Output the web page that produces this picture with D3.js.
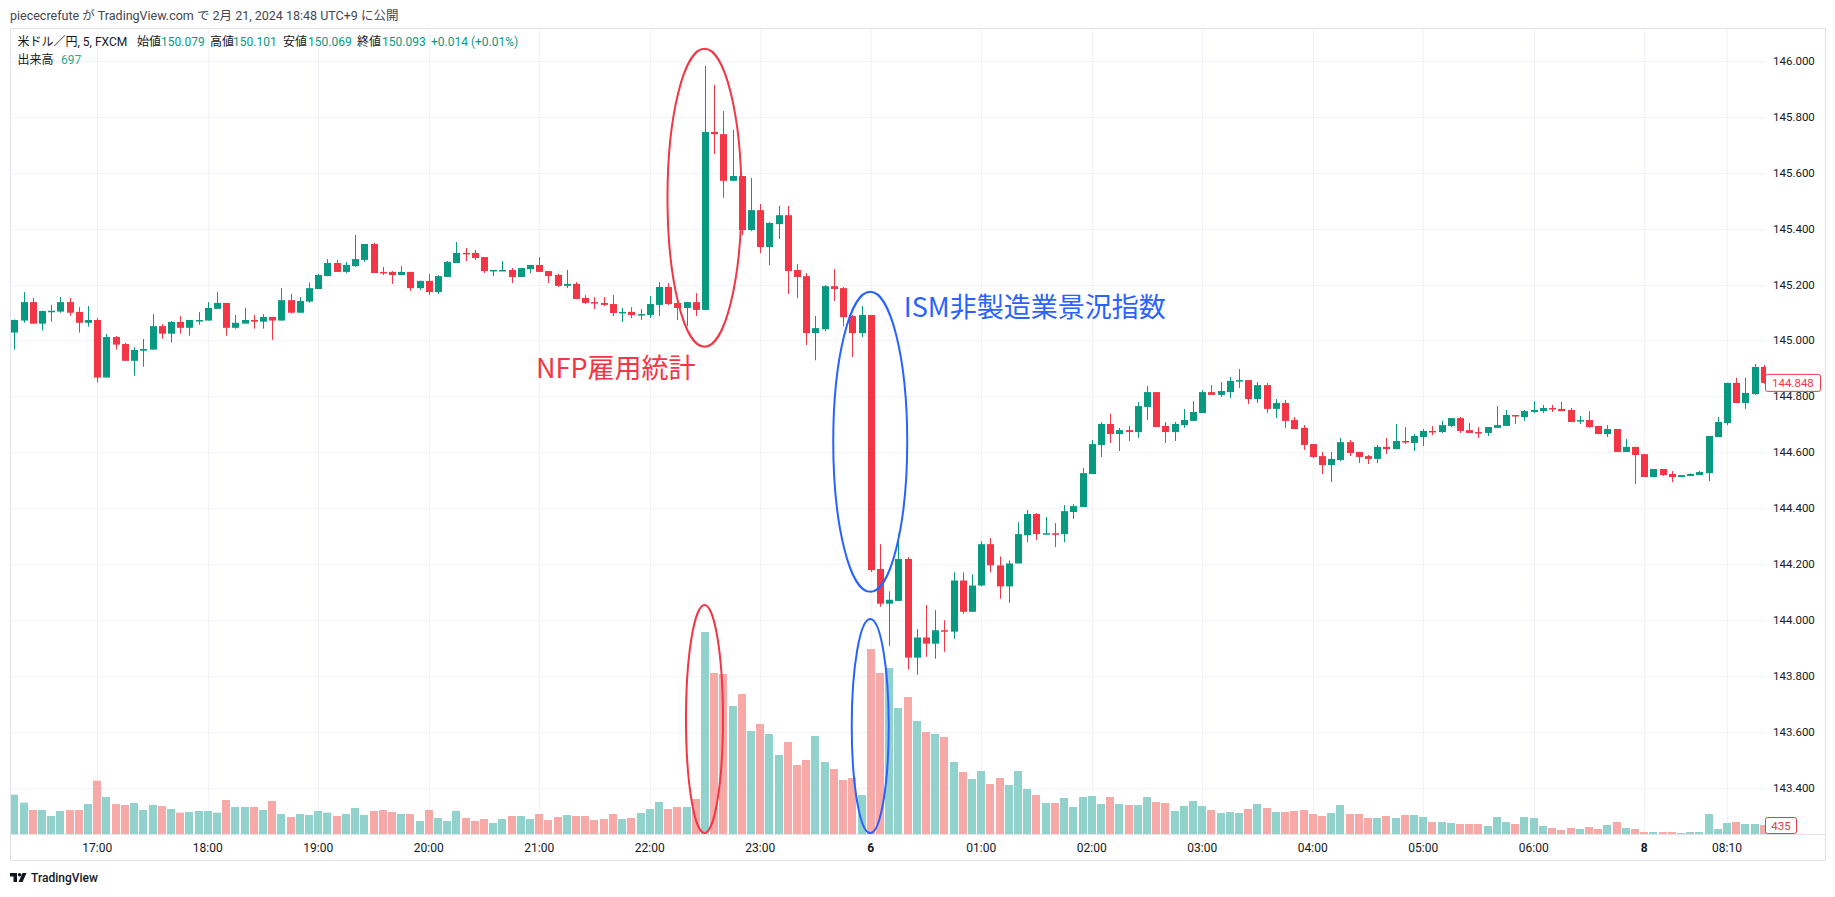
<!DOCTYPE html>
<html><head><meta charset="utf-8">
<script src="https://cdn.jsdelivr.net/npm/d3@7"></script>
<style>
html,body{margin:0;padding:0;background:#fff;}
svg{display:block;}
</style>
</head><body>
<svg id="chart" width="1835" height="897"></svg>
<script>
// ---- data (USD/JPY 5-min, FXCM) ----
const opens = [145.028,145.071,145.137,145.060,145.103,145.103,145.137,145.102,145.063,145.073,
144.867,145.012,144.987,144.927,144.963,144.967,145.051,145.024,145.066,145.045,
145.071,145.071,145.113,145.134,145.045,145.060,145.073,145.067,145.084,145.071,
145.144,145.099,145.139,145.184,145.230,145.277,145.245,145.266,145.288,145.345,
145.245,145.245,145.234,145.245,145.187,145.213,145.173,145.227,145.277,145.313,
145.313,145.298,145.248,145.248,145.252,145.227,145.255,145.270,145.248,145.234,
145.195,145.202,145.152,145.137,145.134,145.130,145.098,145.102,145.091,145.091,
145.127,145.191,145.134,145.116,145.137,145.109,145.746,145.738,145.571,145.588,
145.395,145.466,145.334,145.416,145.448,145.252,145.230,145.026,145.040,145.194,
145.187,145.087,145.026,145.091,144.182,144.058,144.068,144.218,143.865,143.937,
143.915,143.963,143.958,144.141,144.029,144.123,144.271,144.195,144.120,144.202,
144.303,144.379,144.307,144.310,144.307,144.386,144.404,144.522,144.626,144.701,
144.665,144.679,144.672,144.762,144.815,144.694,144.672,144.697,144.712,144.740,
144.815,144.805,144.815,144.855,144.858,144.790,144.840,144.755,144.776,144.715,
144.687,144.629,144.586,144.554,144.572,144.636,144.601,144.586,144.576,144.619,
144.611,144.640,144.633,144.654,144.676,144.672,144.694,144.722,144.679,144.672,
144.669,144.687,144.694,144.733,144.726,144.744,144.747,144.758,144.755,144.751,
144.712,144.715,144.694,144.665,144.683,144.601,144.619,144.593,144.511,144.540,
144.522,144.511,144.515,144.518,144.525,144.654,144.704,144.848,144.776,144.808,
144.905];
const highs = [145.075,145.173,145.152,145.106,145.127,145.155,145.152,145.119,145.123,145.080,
145.023,145.016,144.991,144.976,145.005,145.094,145.058,145.069,145.087,145.073,
145.101,145.137,145.173,145.134,145.091,145.116,145.091,145.094,145.084,145.187,
145.166,145.155,145.207,145.238,145.291,145.288,145.281,145.377,145.345,145.349,
145.263,145.248,145.266,145.245,145.213,145.238,145.234,145.284,145.352,145.331,
145.324,145.298,145.252,145.284,145.259,145.259,145.270,145.298,145.248,145.238,
145.252,145.209,145.162,145.155,145.155,145.162,145.116,145.119,145.112,145.159,
145.209,145.205,145.134,145.137,145.169,145.982,145.914,145.821,145.753,145.588,
145.581,145.488,145.423,145.481,145.481,145.273,145.241,145.087,145.198,145.255,
145.191,145.091,145.123,145.091,144.271,144.102,144.309,144.225,143.967,144.053,
144.035,143.999,144.170,144.170,144.163,144.282,144.293,144.227,144.213,144.350,
144.393,144.382,144.368,144.346,144.411,144.414,144.543,144.643,144.708,144.737,
144.687,144.694,144.780,144.837,144.815,144.708,144.708,144.755,144.783,144.822,
144.840,144.851,144.869,144.898,144.858,144.851,144.848,144.790,144.787,144.726,
144.697,144.629,144.601,144.601,144.651,144.644,144.601,144.590,144.626,144.651,
144.701,144.690,144.665,144.683,144.694,144.712,144.722,144.726,144.704,144.690,
144.690,144.765,144.751,144.733,144.751,144.783,144.769,144.769,144.780,144.758,
144.730,144.747,144.694,144.697,144.683,144.647,144.619,144.593,144.540,144.540,
144.533,144.518,144.525,144.533,144.658,144.726,144.848,144.866,144.866,144.916,
144.912];
const lows = [144.967,145.063,145.060,145.035,145.067,145.099,145.088,145.028,145.049,144.849,
144.867,144.967,144.927,144.874,144.906,144.967,145.006,144.992,145.024,145.017,
145.056,145.071,145.113,145.017,145.042,145.060,145.042,145.042,145.002,145.071,
145.096,145.099,145.135,145.184,145.230,145.245,145.241,145.263,145.281,145.241,
145.234,145.202,145.234,145.177,145.180,145.162,145.166,145.227,145.277,145.284,
145.288,145.241,145.230,145.248,145.205,145.227,145.241,145.245,145.205,145.191,
145.187,145.148,145.130,145.112,145.123,145.087,145.066,145.080,145.073,145.080,
145.087,145.126,145.073,145.051,145.087,145.109,145.667,145.510,145.571,145.377,
145.391,145.312,145.269,145.363,145.166,145.151,144.983,144.929,145.033,145.141,
145.051,144.940,145.012,144.172,144.047,143.907,144.068,143.822,143.804,143.868,
143.861,143.886,143.932,144.022,144.029,144.120,144.170,144.076,144.061,144.202,
144.278,144.286,144.307,144.261,144.278,144.361,144.404,144.522,144.583,144.633,
144.604,144.640,144.651,144.715,144.690,144.633,144.640,144.687,144.712,144.740,
144.805,144.797,144.794,144.830,144.772,144.776,144.740,144.722,144.687,144.683,
144.608,144.579,144.522,144.493,144.568,144.586,144.561,144.558,144.561,144.594,
144.611,144.629,144.604,144.622,144.661,144.669,144.690,144.669,144.669,144.651,
144.658,144.687,144.694,144.701,144.712,144.740,144.740,144.744,144.747,144.708,
144.701,144.687,144.665,144.654,144.601,144.601,144.486,144.511,144.511,144.515,
144.493,144.511,144.515,144.518,144.497,144.654,144.697,144.776,144.755,144.805,
144.845];
const closes = [145.073,145.137,145.060,145.105,145.106,145.137,145.099,145.063,145.073,144.867,
145.012,144.985,144.927,144.966,144.969,145.051,145.024,145.066,145.045,145.073,
145.073,145.116,145.134,145.045,145.063,145.073,145.067,145.084,145.071,145.144,
145.099,145.141,145.187,145.234,145.277,145.245,145.270,145.291,145.345,145.241,
145.241,145.234,145.245,145.187,145.213,145.173,145.230,145.281,145.313,145.309,
145.295,145.248,145.252,145.252,145.227,145.259,145.270,145.245,145.230,145.195,
145.202,145.148,145.134,145.134,145.127,145.098,145.102,145.091,145.094,145.130,
145.191,145.130,145.116,145.137,145.109,145.746,145.738,145.571,145.588,145.395,
145.466,145.334,145.420,145.448,145.248,145.227,145.026,145.044,145.194,145.184,
145.083,145.026,145.091,144.178,144.058,144.072,144.218,143.865,143.937,143.915,
143.963,143.960,144.141,144.029,144.123,144.271,144.195,144.120,144.202,144.307,
144.379,144.307,144.310,144.307,144.389,144.407,144.525,144.629,144.701,144.665,
144.679,144.672,144.765,144.815,144.690,144.672,144.701,144.715,144.744,144.815,
144.805,144.819,144.855,144.858,144.790,144.840,144.755,144.776,144.712,144.683,
144.626,144.583,144.554,144.576,144.636,144.597,144.583,144.576,144.619,144.611,
144.640,144.637,144.658,144.676,144.672,144.697,144.722,144.676,144.669,144.669,
144.690,144.697,144.733,144.730,144.747,144.751,144.758,144.755,144.747,144.708,
144.715,144.690,144.665,144.683,144.601,144.619,144.590,144.511,144.540,144.518,
144.511,144.518,144.522,144.529,144.658,144.708,144.848,144.776,144.812,144.905,
144.848];
const volumes = [1888,1504,1152,1152,864,1104,1152,1152,1440,2560,
1776,1440,1392,1488,1152,1392,1344,1200,1024,1056,
1104,1104,1024,1632,1296,1296,1296,1152,1584,960,
816,960,912,1104,1024,864,960,1248,912,1104,
1152,1056,960,960,624,1152,768,624,1104,768,
624,720,528,720,864,864,720,960,672,816,
912,864,864,672,720,960,720,768,1008,1200,
1536,1200,1296,1296,1680,9696,7728,7680,6144,6720,
4944,5280,4800,3792,4416,3312,3552,4704,3456,3120,
2592,2688,1872,8880,7728,7968,6048,6576,5424,4896,
4800,4656,3456,2976,2640,3024,2400,2688,2352,3024,
2160,1872,1488,1488,1728,1296,1776,1824,1440,1776,
1440,1392,1392,1776,1536,1488,1104,1344,1584,1344,
1152,1008,1056,1008,1200,1440,1248,1056,1056,1104,
1152,960,864,1008,1392,960,960,768,768,864,
768,912,912,816,576,576,528,480,480,480,
384,816,576,480,816,768,384,288,192,288,
240,336,240,432,576,288,240,96,96,96,
96,48,96,96,960,240,528,576,480,480,
435];
const timeTickLabels = ["17:00","18:00","19:00","20:00","21:00","22:00","23:00","6","01:00","02:00","03:00","04:00","05:00","06:00","8","08:10"];
const timeTickBars = [9,21,33,45,57,69,81,93,105,117,129,141,153,165,177,186];
const priceTicks = [146.0,145.8,145.6,145.4,145.2,145.0,144.8,144.6,144.4,144.2,144.0,143.8,143.6,143.4];
const lastPrice = 144.848;
const lastVolume = 435;
const nfpBars = [75];   // NFP release bar
const ismBars = [93];   // ISM release bar

// ---- drawing ----
const UP = "#089981", DOWN = "#F23645";
const UPV = "#92d2cc", DOWNV = "#f7a9a7";
const TXT = "#131722";
const FONT = "Roboto, 'Noto Sans CJK JP', sans-serif";
const plot = {left:10, right:1766, top:29, bottom:834};
const svg = d3.select("#chart");

const x = d3.scaleLinear().domain([0, closes.length - 1]).range([14.4, 1763.9]);
const y = d3.scaleLinear().domain([143.4, 146.0]).range([787.6, 60.9]);
const yv = d3.scaleLinear().domain([0, 10000]).range([plot.bottom, plot.bottom - 10000/48]);

svg.append("rect").attr("width",1835).attr("height",897).attr("fill","#fff");

// header
svg.append("text").attr("x",10).attr("y",15).attr("dominant-baseline","central")
  .attr("font-family",FONT).attr("font-size",12.5).attr("fill","#434651")
  .text("piececrefute が TradingView.com で 2月 21, 2024 18:48 UTC+9 に公開");

// clip
svg.append("clipPath").attr("id","plotclip").append("rect")
  .attr("x",plot.left).attr("y",plot.top).attr("width",plot.right-plot.left).attr("height",plot.bottom-plot.top);

// gridlines
const grid = svg.append("g").attr("stroke","#f0f3fa").attr("stroke-width",1);
grid.selectAll("line.h").data(priceTicks).join("line")
  .attr("x1",plot.left).attr("x2",plot.right)
  .attr("y1",d=>Math.round(y(d))+0.5).attr("y2",d=>Math.round(y(d))+0.5);
grid.selectAll("line.v").data(timeTickBars).join("line")
  .attr("y1",plot.top).attr("y2",plot.bottom)
  .attr("x1",d=>Math.round(x(d))+0.5).attr("x2",d=>Math.round(x(d))+0.5);

const plotG = svg.append("g").attr("clip-path","url(#plotclip)");
const idx = d3.range(closes.length);

// volume
plotG.append("g").selectAll("rect").data(idx).join("rect")
  .attr("x",i=>Math.round(x(i))-4).attr("width",8)
  .attr("y",i=>yv(volumes[i])).attr("height",i=>plot.bottom-yv(volumes[i]))
  .attr("fill",i=>closes[i]>=opens[i]?UPV:DOWNV);

// candles
const cg = plotG.append("g");
cg.selectAll("line").data(idx).join("line")
  .attr("x1",i=>Math.round(x(i))+0.5).attr("x2",i=>Math.round(x(i))+0.5)
  .attr("y1",i=>y(highs[i])).attr("y2",i=>y(lows[i]))
  .attr("stroke",i=>closes[i]>=opens[i]?UP:DOWN).attr("stroke-width",1);
cg.selectAll("rect").data(idx).join("rect")
  .attr("x",i=>Math.round(x(i))-3).attr("width",7)
  .attr("y",i=>y(Math.max(opens[i],closes[i])))
  .attr("height",i=>Math.max(1.5, Math.abs(y(opens[i])-y(closes[i]))))
  .attr("fill",i=>closes[i]>=opens[i]?UP:DOWN);

// annotation ellipses
const ann = svg.append("g").attr("fill","none").attr("stroke-width",2);
nfpBars.forEach(b=>{
  ann.append("ellipse").attr("cx",x(b)-0.5).attr("cy",y(145.51)).attr("rx",37).attr("ry",149).attr("stroke",DOWN);
  ann.append("ellipse").attr("cx",x(b)-0.5).attr("cy",yv(5520)).attr("rx",18.5).attr("ry",114).attr("stroke",DOWN);
  svg.append("text").attr("x",x(b)-169).attr("y",378).attr("font-family","'Noto Sans CJK JP', sans-serif")
    .attr("font-size",27).attr("fill",DOWN).text("NFP雇用統計");
});
ismBars.forEach(b=>{
  ann.append("ellipse").attr("cx",x(b)-0.5).attr("cy",y(144.637)).attr("rx",37).attr("ry",150).attr("stroke","#2962FF");
  ann.append("ellipse").attr("cx",x(b)-0.5).attr("cy",yv(5180)).attr("rx",18.5).attr("ry",107).attr("stroke","#2962FF");
  svg.append("text").attr("x",x(b)+33).attr("y",317).attr("font-family","'Noto Sans CJK JP', sans-serif")
    .attr("font-size",27).attr("fill","#2962FF").text("ISM非製造業景況指数");
});

// borders
const bc = "#e0e3eb";
svg.append("rect").attr("x",10.5).attr("y",28.5).attr("width",1815).attr("height",832)
  .attr("fill","none").attr("stroke",bc);
svg.append("line").attr("x1",10).attr("x2",1826).attr("y1",834.5).attr("y2",834.5).attr("stroke",bc);

// price axis labels
svg.append("g").selectAll("text").data(priceTicks).join("text")
  .attr("x",1773).attr("y",d=>y(d)).attr("dominant-baseline","central")
  .attr("font-family",FONT).attr("font-size",11.5).attr("fill",TXT)
  .text(d=>d3.format(".3f")(d));

// time axis labels
svg.append("g").selectAll("text").data(timeTickBars).join("text")
  .attr("x",d=>x(d)).attr("y",848).attr("dominant-baseline","central").attr("text-anchor","middle")
  .attr("font-family",FONT).attr("font-size",12).attr("fill",TXT)
  .attr("font-weight",(d,i)=>timeTickLabels[i].length<3?"bold":"normal")
  .text((d,i)=>timeTickLabels[i]);

// last price label
const lp = svg.append("g");
lp.append("rect").attr("x",1765.5).attr("y",y(lastPrice)-8.5).attr("width",55).attr("height",17).attr("rx",2)
  .attr("fill","#fff").attr("stroke",DOWN);
lp.append("text").attr("x",1772).attr("y",y(lastPrice)).attr("dominant-baseline","central")
  .attr("font-family",FONT).attr("font-size",11.5).attr("fill",DOWN).text(d3.format(".3f")(lastPrice));
lp.append("rect").attr("x",1765.5).attr("y",817.5).attr("width",31).attr("height",16).attr("rx",2)
  .attr("fill","#fff").attr("stroke",DOWN);
lp.append("text").attr("x",1781).attr("y",825.5).attr("dominant-baseline","central").attr("text-anchor","middle")
  .attr("font-family",FONT).attr("font-size",11.5).attr("fill",DOWN).text(lastVolume);

// legend
const lg = svg.append("g").attr("font-family",FONT).attr("font-size",12).attr("dominant-baseline","central");
const leg1 = [["米ドル／円, 5, FXCM",17.5,TXT],["始値",137,TXT],["150.079",161,UP],["高値",210,TXT],["150.101",233,UP],
  ["安値",283,TXT],["150.069",308,UP],["終値",357,TXT],["150.093",382,UP],["+0.014 (+0.01%)",431,UP]];
leg1.forEach(d=>lg.append("text").attr("x",d[1]).attr("y",42).attr("fill",d[2]).text(d[0]));
lg.append("text").attr("x",17.5).attr("y",60).attr("fill",TXT).text("出来高");
lg.append("text").attr("x",61).attr("y",60).attr("fill","#22ab94").text("697");

// TradingView logo
const logo = svg.append("g").attr("transform","translate(10,873)").attr("fill","#131722");
logo.append("path").attr("d","M0,0 H7 V9 H3.5 V3.5 H0 Z");
logo.append("circle").attr("cx",9.6).attr("cy",1.8).attr("r",1.8);
logo.append("path").attr("d","M12.5,0 H16.5 L12.5,9 H8.5 Z");
svg.append("text").attr("x",31).attr("y",878).attr("dominant-baseline","central")
  .attr("font-family",FONT).attr("font-size",12).attr("font-weight",500).attr("fill","#131722").text("TradingView");
</script>
</body></html>
